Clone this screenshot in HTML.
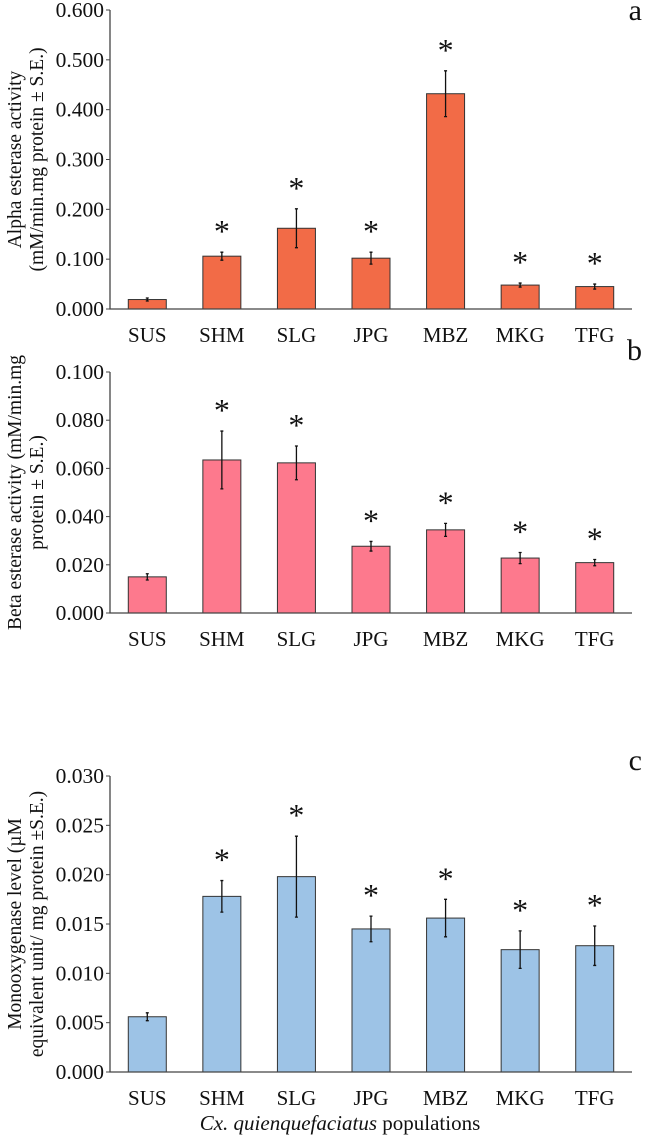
<!DOCTYPE html>
<html><head><meta charset="utf-8"><style>
body{margin:0;background:#fff}
svg text{font-family:"Liberation Serif",serif;fill:#111}
</style></head><body>
<svg id="s" width="645" height="1137" xmlns="http://www.w3.org/2000/svg"></svg>
<script>
const categories=["SUS","SHM","SLG","JPG","MBZ","MKG","TFG"];
const alphaVals=[0.019,0.106,0.162,0.102,0.432,0.048,0.045];
const alphaErr=[0.003,0.008,0.039,0.012,0.046,0.004,0.005];
const alphaSig=[false,true,true,true,true,true,true];
const alphaTicks=["0.000","0.100","0.200","0.300","0.400","0.500","0.600"];
const betaVals=[0.015,0.0635,0.0623,0.0277,0.0345,0.0228,0.0209];
const betaErr=[0.0013,0.012,0.007,0.002,0.0027,0.0023,0.0013];
const betaSig=[false,true,true,true,true,true,true];
const betaTicks=["0.000","0.020","0.040","0.060","0.080","0.100"];
const monoVals=[0.0056,0.0178,0.0198,0.0145,0.0156,0.0124,0.0128];
const monoErr=[0.0004,0.0016,0.0041,0.0013,0.0019,0.0019,0.002];
const monoSig=[false,true,true,true,true,true,true];
const monoTicks=["0.000","0.005","0.010","0.015","0.020","0.025","0.030"];

const NS="http://www.w3.org/2000/svg";
const svg=document.getElementById('s');
function mk(tag,attrs,txt){const e=document.createElementNS(NS,tag);for(const k in attrs)e.setAttribute(k,attrs[k]);if(txt!=null)e.textContent=txt;svg.appendChild(e);return e;}

function chart(o){
  const x0=110,x1=632,cw=(x1-x0)/categories.length,bw=38;
  const max=parseFloat(o.ticks[o.ticks.length-1]);
  const y=v=>o.base-(v/max)*(o.base-o.top);
  const xc=i=>x0+cw*(i+0.5);
  o.ticks.forEach(t=>{
    const tk=mk('text',{x:x0-6,y:y(parseFloat(t))+7,'text-anchor':'end','font-size':21.5},t);
    
    
    const tl=mk('line',{x1:x0-4,x2:x0,y1:y(parseFloat(t)),y2:y(parseFloat(t)),stroke:'#444','stroke-width':1});
    
    
  });
  o.vals.forEach((v,i)=>{
    const r=mk('rect',{x:xc(i)-bw/2,y:y(v),width:bw,height:o.base-y(v),fill:o.color,stroke:'#333','stroke-width':1});
    
    
    const e=o.err[i];
    const eb=mk('path',{d:`M${xc(i)} ${y(v+e)}V${y(v-e)}M${xc(i)-1.5} ${y(v+e)}h3M${xc(i)-1.5} ${y(v-e)}h3`,stroke:'#111','stroke-width':1.3,fill:'none'});
    
    
    if(o.sig[i]){
      const a=mk('text',{x:xc(i),y:y(v+e)-10,'text-anchor':'middle','font-size':32},'*');
      
      
    }
    const l=mk('text',{x:xc(i),y:o.base+33,'text-anchor':'middle','font-size':21},categories[i]);
    
    
  });
  const ax=mk('path',{d:`M${x0} ${o.top}V${o.base}H${x1}`,stroke:'#444','stroke-width':1.3,fill:'none'});
  
  
  const cy=(o.top+o.base)/2;
  const t1=mk('text',{x:0,y:0,'text-anchor':'middle','font-size':19.5,transform:`translate(${o.tx1},${cy}) rotate(-90)`},o.title1);
  
  
  const t2=mk('text',{x:0,y:0,'text-anchor':'middle','font-size':19.5,transform:`translate(${o.tx1+22},${cy}) rotate(-90)`},o.title2);
  
  
  const p=mk('text',{x:642,y:o.labelY,'text-anchor':'end','font-size':30},o.label);
  
  
}
chart({key:'alpha',vals:alphaVals,err:alphaErr,sig:alphaSig,ticks:alphaTicks,top:10,base:309,color:'#f26b47',
  title1:'Alpha esterase activity',title2:'(mM/min.mg protein ± S.E.)',tx1:21,label:'a',labelY:20});
chart({key:'beta',vals:betaVals,err:betaErr,sig:betaSig,ticks:betaTicks,top:372,base:613,color:'#fd798d',
  title1:'Beta esterase activity (mM/min.mg',title2:'protein ± S.E.)',tx1:21,label:'b',labelY:360});
chart({key:'mono',vals:monoVals,err:monoErr,sig:monoSig,ticks:monoTicks,top:776,base:1072,color:'#9dc3e6',
  title1:'Monooxygenase level (µM',title2:'equivalent unit/ mg protein ±S.E.)',tx1:21,label:'c',labelY:770});
const xt=mk('text',{x:340,y:1130,'text-anchor':'middle','font-size':21});


xt.innerHTML='<tspan font-style="italic">Cx. quienquefaciatus</tspan> populations';
</script>
</body></html>
